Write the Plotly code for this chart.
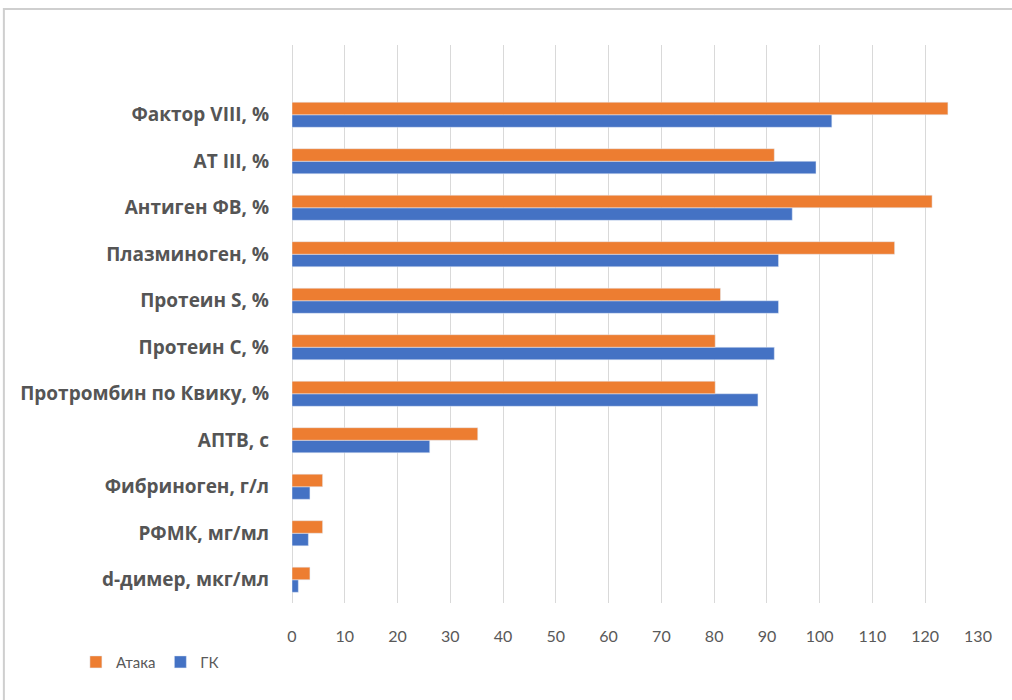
import plotly.graph_objects as go

categories = ["d-димер, мкг/мл", "РФМК, мг/мл", "Фибриноген, г/л", "АПТВ, с",
              "Протромбин по Квику, %", "Протеин С, %", "Протеин S, %",
              "Плазминоген, %", "Антиген ФВ, %", "AT III, %", "Фактор VIII, %"]
ataka = [3.4, 5.8, 5.8, 35.2, 80.2, 80.2, 81.2, 114.2, 121.3, 91.4, 124.3]
gk = [1.2, 3.1, 3.4, 26.1, 88.3, 91.4, 92.2, 92.2, 94.8, 99.3, 102.3]
x_ticks = list(range(0, 131, 10))

ORANGE = "#ED7D31"
BLUE = "#4472C4"

fig = go.Figure()
fig.add_trace(go.Bar(y=categories, x=gk, name="ГК", orientation="h",
                     marker=dict(color=BLUE), legendrank=2))
fig.add_trace(go.Bar(y=categories, x=ataka, name="Атака", orientation="h",
                     marker=dict(color=ORANGE), legendrank=1))

fig.update_layout(
    width=1012, height=700,
    margin=dict(l=292, r=34, t=45, b=97),
    paper_bgcolor="white", plot_bgcolor="white",
    barmode="group", bargap=0.46, bargroupgap=0,
    font=dict(family="Lato, Open Sans, sans-serif", color="#595959"),
    xaxis=dict(range=[0, 130], tickvals=x_ticks, showgrid=True,
               gridcolor="#d9d9d9", gridwidth=1, zeroline=True,
               zerolinecolor="#d9d9d9", zerolinewidth=1, showline=False,
               tickfont=dict(size=16, color="#595959"), ticklabelstandoff=22),
    yaxis=dict(type="category", categoryorder="array", categoryarray=categories,
               range=[-0.5, 11.5], showgrid=False, showline=False,
               tickfont=dict(size=19, color="#555555", family="Open Sans, sans-serif", weight="bold"),
               ticklabelstandoff=22),
    legend=dict(orientation="h", x=-0.315, y=-0.106, xanchor="left", yanchor="middle",
                font=dict(size=15, color="#595959"), itemwidth=30,
                traceorder="normal"),
    showlegend=True,
    shapes=[dict(type="rect", xref="paper", yref="paper",
                 x0=-0.42, x1=1.06, y0=-0.2, y1=1.0645,
                 line=dict(color="#cfcfcf", width=2), fillcolor="rgba(0,0,0,0)",
                 layer="below")],
)

fig.write_html("out.html")
